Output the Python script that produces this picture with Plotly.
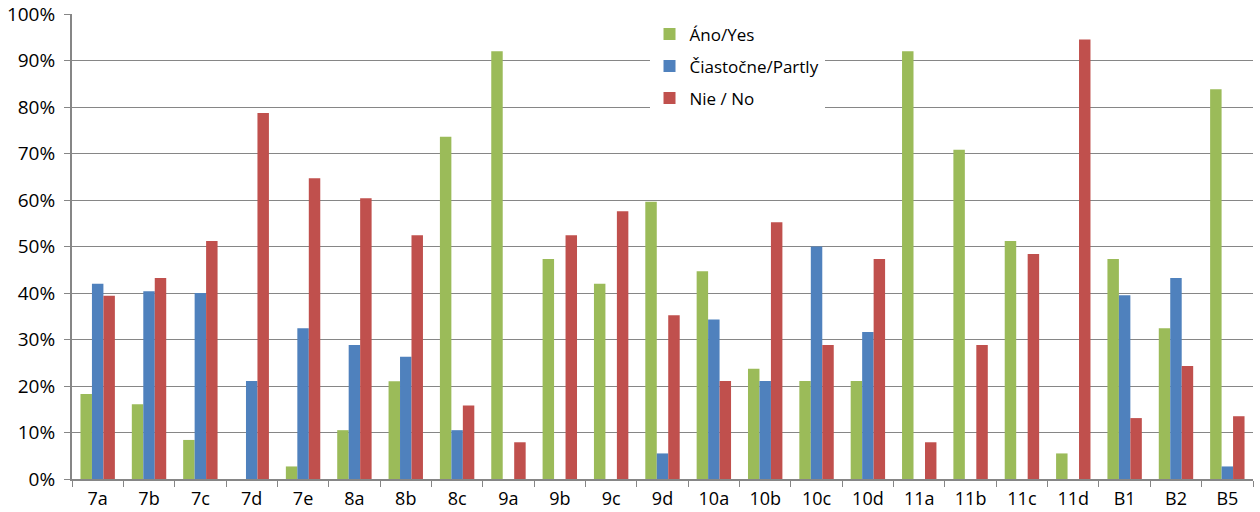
import plotly.graph_objects as go

categories = ["7a", "7b", "7c", "7d", "7e", "8a", "8b", "8c", "9a", "9b", "9c", "9d",
              "10a", "10b", "10c", "10d", "11a", "11b", "11c", "11d", "B1", "B2", "B5"]
yes_vals = [18.3, 16.1, 8.4, 0, 2.7, 10.5, 21.0, 73.6, 92.0, 47.3, 42.0, 59.6,
            44.7, 23.7, 21.1, 21.1, 92.0, 70.8, 51.2, 5.5, 47.3, 32.4, 83.8]
partly_vals = [42.0, 40.4, 40.0, 21.1, 32.4, 28.8, 26.3, 10.5, 0, 0, 0, 5.5,
               34.3, 21.1, 50.0, 31.6, 0, 0, 0, 0, 39.5, 43.2, 2.7]
no_vals = [39.4, 43.2, 51.2, 78.7, 64.7, 60.4, 52.4, 15.8, 7.9, 52.4, 57.6, 35.2,
           21.1, 55.2, 28.8, 47.3, 7.9, 28.8, 48.4, 94.5, 13.1, 24.3, 13.5]
series_names = ["Áno/Yes", "Čiastočne/Partly", "Nie / No"]
colors = ["#9BBB59", "#4F81BD", "#C0504D"]
y_ticks = [i / 10 for i in range(11)]

fig = go.Figure()
for name, vals, col in zip(series_names, [yes_vals, partly_vals, no_vals], colors):
    fig.add_trace(go.Bar(
        x=categories, y=[v / 100 for v in vals], name=name,
        marker=dict(color=col, line=dict(width=0)),
        legendgroup=name,
    ))

fig.update_layout(
    width=1260, height=512,
    margin=dict(l=72, r=7, t=14, b=33, autoexpand=False),
    paper_bgcolor="white", plot_bgcolor="white",
    barmode="group", bargap=0.33, bargroupgap=0,
    font=dict(family="Open Sans", size=18, color="#000000"),
    legend=dict(
        x=0.489, y=0.995, xanchor="left", yanchor="top",
        bgcolor="white", borderwidth=0,
        font=dict(size=17, family="Open Sans"),
        tracegroupgap=7,
        traceorder="grouped",
    ),
    xaxis=dict(
        type="category", showgrid=False, showline=True, linecolor="#868686", linewidth=2,
        ticks="outside", tickson="boundaries", ticklen=6, tickcolor="#868686", tickwidth=1,
        tickfont=dict(size=18), fixedrange=True, automargin=False, ticklabelstandoff=2,
    ),
    yaxis=dict(
        range=[0, 1], tickmode="array", tickvals=y_ticks,
        tickformat=".0%", showgrid=True, gridcolor="#868686", gridwidth=1,
        showline=True, linecolor="#868686", linewidth=2,
        ticks="outside", ticklen=6, tickcolor="#868686",
        tickfont=dict(size=19), zeroline=False, automargin=False, ticklabelstandoff=5,
    ),
)

fig.write_html("out.html", post_script="document.body.style.margin='0';",
               config={"displayModeBar": False})
